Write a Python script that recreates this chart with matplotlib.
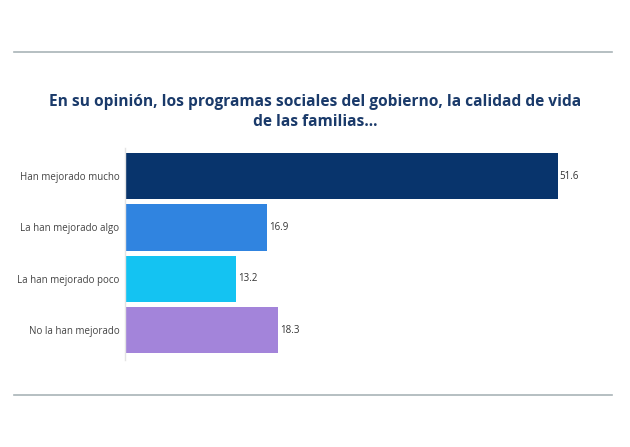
import matplotlib
matplotlib.use("Agg")
import matplotlib.pyplot as plt
from matplotlib.lines import Line2D

categories = ["Han mejorado mucho", "La han mejorado algo", "La han mejorado poco", "No la han mejorado"]
values = [51.6, 16.9, 13.2, 18.3]
colors = ["#08346c", "#3084e0", "#14c3f2", "#a384da"]
title = "En su opinión, los programas sociales del gobierno, la calidad de vida\nde las familias..."

plt.rcParams['font.family'] = ['Open Sans', 'DejaVu Sans']

fig = plt.figure(figsize=(6.3, 4.47), dpi=100)
ax = fig.add_axes([125/630, 1-360/447, (612-125)/630, (360-148)/447])

y = list(range(len(categories)))
ax.barh(y, values, height=0.9, color=colors)
for yi, v in zip(y, values):
    ax.text(v + 0.25, yi, f"{v:.1f}", va="center", ha="left", fontsize=7, color="#333333")

ax.set_xlim(0, 58.1)
ax.set_ylim(3.58, -0.545)
ax.set_yticks(y)
ax.set_yticklabels(categories, fontsize=7, color="#444444")
ax.tick_params(axis="y", length=0, pad=4)
ax.set_xticks([])
for s in ["top", "right", "bottom"]:
    ax.spines[s].set_visible(False)
ax.spines["left"].set_color("#e4e4e4")
ax.spines["left"].set_linewidth(1)

fig.text(0.5, 1-112/447, title, ha="center", va="center", fontsize=11.2,
         fontweight="bold", color="#1a3a6a", linespacing=1.25)

fig.add_artist(Line2D([14/630, 612/630], [1-52/447, 1-52/447], color="#a9b4b8", lw=1.2))
fig.add_artist(Line2D([14/630, 612/630], [1-395/447, 1-395/447], color="#a9b4b8", lw=1.2))

fig.savefig("out.png", dpi=100, facecolor="white")
